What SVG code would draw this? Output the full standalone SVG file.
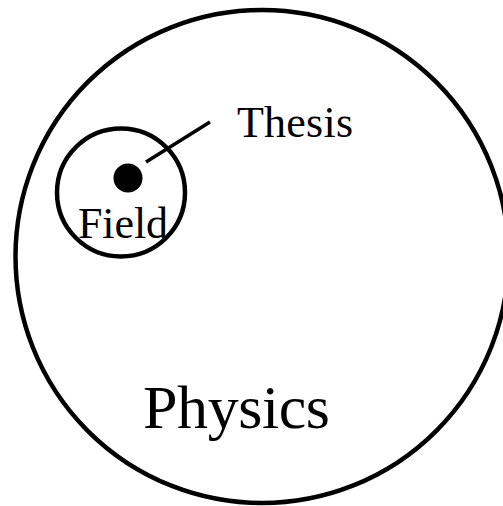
<svg xmlns="http://www.w3.org/2000/svg" width="503" height="506" viewBox="0 0 503 506">
<style>
.c{fill:none;stroke:#000;stroke-width:4.5}
.t{font-family:"Liberation Serif","Times New Roman",serif;fill:#000}
</style>
<rect width="503" height="506" fill="#fff"/>
<g id="physics">
<circle class="c" cx="262" cy="256.5" r="246.5"/>
<text class="t" x="143" y="428" font-size="62" textLength="187">Physics</text>
</g>
<g id="field">
<circle class="c" cx="121" cy="192.5" r="64"/>
<text class="t" x="78" y="238" font-size="44" textLength="90">Field</text>
</g>
<g id="thesis">
<circle cx="128" cy="178" r="14.5" fill="#000"/>
<text class="t" x="237" y="137" font-size="44" textLength="116">Thesis</text>
</g>
<g id="connectors">
<line x1="146" y1="162" x2="210" y2="122" stroke="#000" stroke-width="3.5"/>
</g>
</svg>
